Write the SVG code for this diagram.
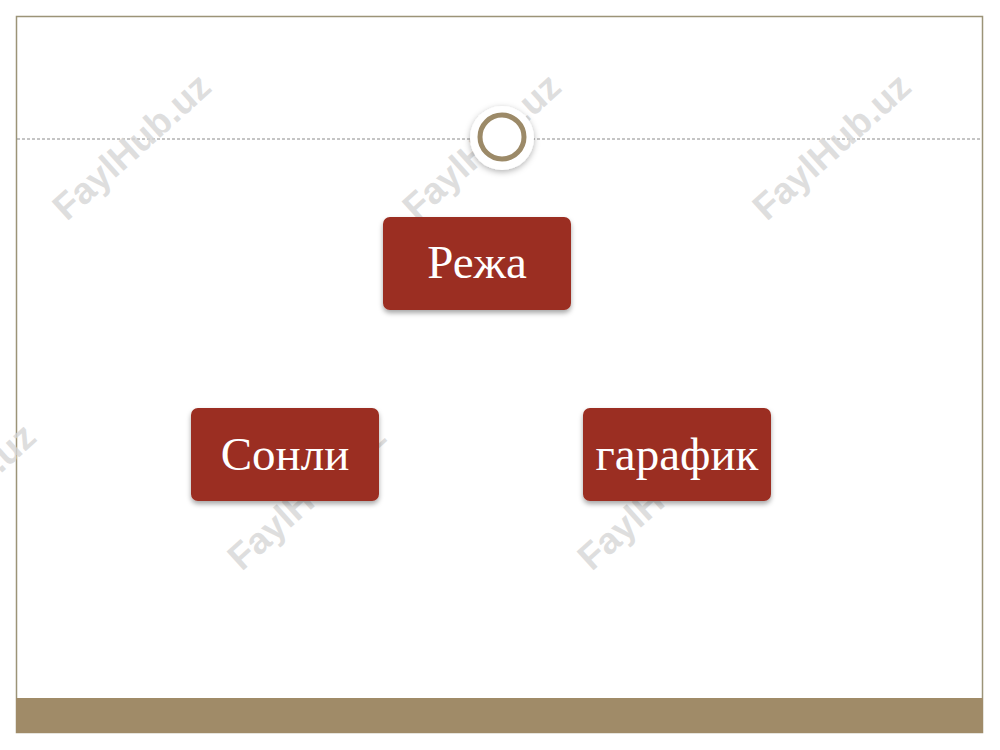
<svg xmlns="http://www.w3.org/2000/svg" width="1000" height="750" viewBox="0 0 1000 750">
<defs>
<filter id="sh" x="-20%" y="-20%" width="140%" height="150%">
<feDropShadow dx="0" dy="3" stdDeviation="2.5" flood-color="#000" flood-opacity="0.35"/>
</filter>
<filter id="sh2" x="-40%" y="-40%" width="180%" height="180%">
<feDropShadow dx="0" dy="2" stdDeviation="3" flood-color="#000" flood-opacity="0.3"/>
</filter>
<style>
.box{fill:#9b2d20;}
.lbl{font-family:"Liberation Serif","DejaVu Serif",serif;font-size:47px;fill:#ffffff;text-anchor:middle;}
.wm{font-family:"Liberation Sans","DejaVu Sans",sans-serif;font-weight:bold;font-size:37px;fill:#d6d6d6;fill-opacity:0.8;text-anchor:middle;}
.wm2{font-family:"Liberation Sans","DejaVu Sans",sans-serif;font-weight:bold;font-size:37px;fill:#ffffff;fill-opacity:0.07;text-anchor:middle;}
</style>
</defs>
<rect x="0" y="0" width="1000" height="750" fill="#ffffff"/>
<rect x="16.5" y="16.5" width="966" height="716" fill="#ffffff" stroke="#9c9478" stroke-width="1.5"/>
<rect x="16" y="698" width="967" height="35" fill="#a08b68"/>
<line x1="17" y1="139" x2="982" y2="139" stroke="#8a8a8a" stroke-width="1" stroke-dasharray="3,2"/>
<g id="watermarks">
<text class="wm" transform="translate(140,156) rotate(-42)">FaylHub.uz</text>
<text class="wm" transform="translate(490,156) rotate(-42)">FaylHub.uz</text>
<text class="wm" transform="translate(840,156) rotate(-42)">FaylHub.uz</text>
<text class="wm" transform="translate(-35,506) rotate(-42)">FaylHub.uz</text>
<text class="wm" transform="translate(315,506) rotate(-42)">FaylHub.uz</text>
<text class="wm" transform="translate(665,506) rotate(-42)">FaylHub.uz</text>
</g>
<g id="ornament">
<circle cx="502" cy="138" r="32" fill="#ffffff" filter="url(#sh2)"/>
<circle cx="502" cy="137" r="22" fill="#ffffff" stroke="#9c8a68" stroke-width="5"/>
</g>
<g id="connectors"></g>
<g id="node-rezha">
<rect class="box" x="383" y="217" width="188" height="93" rx="7" filter="url(#sh)"/>
<text class="lbl" x="477" y="278">Режа</text>
</g>
<g id="node-sonli">
<rect class="box" x="191" y="408" width="188" height="93" rx="7" filter="url(#sh)"/>
<text class="lbl" x="285" y="470">Сонли</text>
</g>
<g id="node-grafik">
<rect class="box" x="583" y="408" width="188" height="93" rx="7" filter="url(#sh)"/>
<text class="lbl" x="677" y="470">гарафик</text>
</g>
</svg>
